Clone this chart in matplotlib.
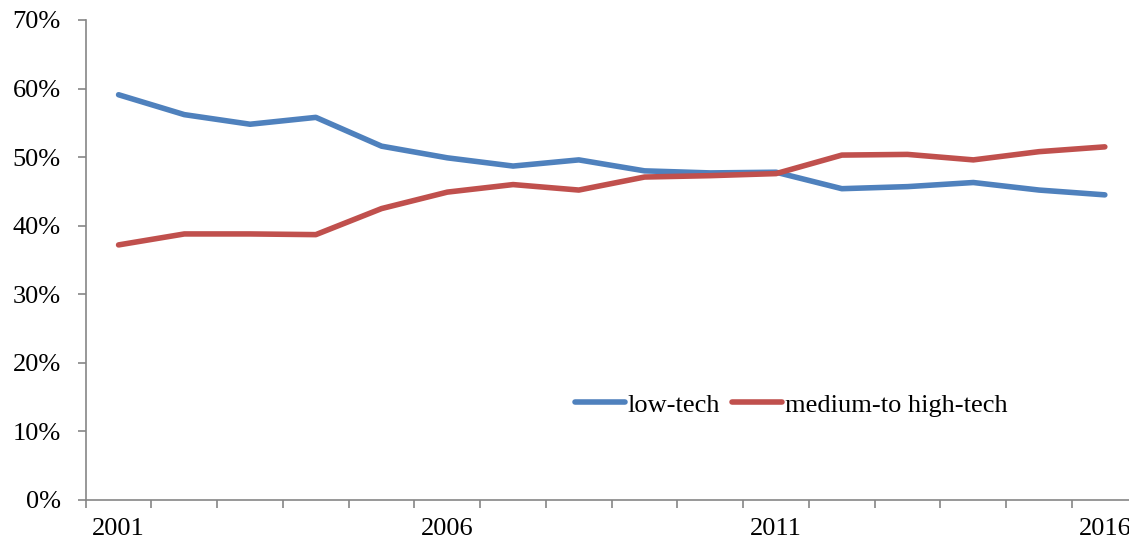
import numpy as np
import matplotlib
matplotlib.use('Agg')
import matplotlib.pyplot as plt
from matplotlib.ticker import FixedLocator, PercentFormatter

years = list(range(2001, 2017))
low_tech = [59.1, 56.2, 54.8, 55.8, 51.6, 49.9, 48.7, 49.6, 48.0, 47.7, 47.8, 45.4, 45.7, 46.3, 45.2, 44.5]
med_high_tech = [37.2, 38.8, 38.8, 38.7, 42.5, 44.9, 46.0, 45.2, 47.1, 47.3, 47.6, 50.3, 50.4, 49.6, 50.8, 51.5]
label_years = [2001, 2006, 2011, 2016]

plt.rcParams['font.family'] = ['Liberation Serif', 'DejaVu Serif']
plt.rcParams['font.size'] = 19

fig = plt.figure(figsize=(11.29, 5.42), dpi=100)
ax = fig.add_axes([85.7 / 1129, 42 / 542, 1052 / 1129, 480 / 542])

x = np.arange(len(years))
ax.plot(x, low_tech, color='#4F81BD', lw=4.0, solid_capstyle='round', solid_joinstyle='round', label='low-tech')
ax.plot(x, med_high_tech, color='#C0504D', lw=4.0, solid_capstyle='round', solid_joinstyle='round', label='medium-to high-tech')

ax.set_xlim(-0.5, len(years) - 0.5)
ax.set_ylim(0, 70)
ax.set_yticks(np.arange(0, 71, 10))
ax.yaxis.set_major_formatter(PercentFormatter(decimals=0))

# tick marks between categories, labels under some of the points
ax.xaxis.set_major_locator(FixedLocator(np.arange(-0.5, len(years), 1.0)))
ax.xaxis.set_major_formatter(plt.NullFormatter())
ax.xaxis.set_minor_locator(FixedLocator([years.index(y) for y in label_years]))
ax.set_xticklabels([str(y) for y in label_years], minor=True)

for s in ['top', 'right']:
    ax.spines[s].set_visible(False)
for s in ['left', 'bottom']:
    ax.spines[s].set_color('#868686')
    ax.spines[s].set_linewidth(1.2)

ax.tick_params(axis='y', which='major', length=6, width=1.2, color='#868686', pad=12)
ax.tick_params(axis='x', which='major', length=6, width=1.2, color='#868686')
ax.tick_params(axis='x', which='minor', length=0, pad=13)

ax.legend(loc='center left', bbox_to_anchor=(0.465, 0.198), ncol=2, frameon=False,
          handlelength=1.9, handletextpad=0.1, columnspacing=0.45,
          borderpad=0, borderaxespad=0)

fig.savefig('out.png', dpi=100)
